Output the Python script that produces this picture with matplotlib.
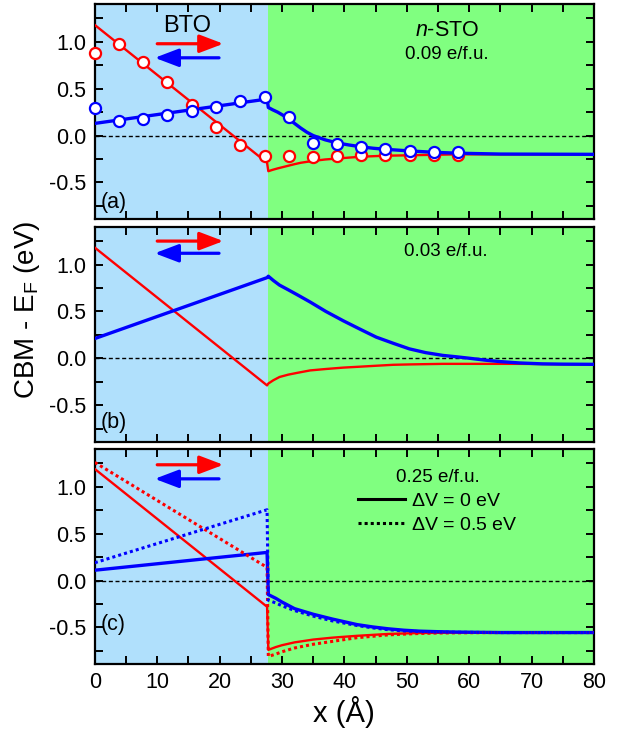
import numpy as np
import matplotlib
matplotlib.use('Agg')
import matplotlib.pyplot as plt
from matplotlib.lines import Line2D
from matplotlib.ticker import MultipleLocator

plt.rcParams['font.family'] = ['Liberation Sans', 'DejaVu Sans']
plt.rcParams['mathtext.fontset'] = 'custom'
plt.rcParams['mathtext.rm'] = 'Liberation Sans'
plt.rcParams['mathtext.it'] = 'Liberation Sans:italic'
plt.rcParams['axes.unicode_minus'] = False

# --- Data ---
interface_x = 27.8
bto_x = [0.0, 27.6]

# panel (a): 0.09 e/f.u.
a_red_bto = [1.18, -0.29]
a_blue_bto = [0.13, 0.39]
a_sto_x = [27.8, 28.5, 29.3, 30.2, 31.1, 32.0, 33.0, 34.0, 35.0, 36.9, 38.8, 40.7,
           42.7, 44.6, 46.5, 50.5, 54.3, 58.2, 65.0, 80.0]
a_red_sto = [-0.38, -0.365, -0.35, -0.335, -0.32, -0.305, -0.29, -0.28, -0.27, -0.255,
             -0.245, -0.235, -0.225, -0.22, -0.215, -0.21, -0.205, -0.2, -0.2, -0.2]
a_blue_sto = [0.30, 0.275, 0.25, 0.215, 0.175, 0.13, 0.08, 0.035, 0.0, -0.045, -0.078,
              -0.10, -0.12, -0.135, -0.146, -0.164, -0.178, -0.188, -0.197, -0.2]
a_pts_x = [0.0, 3.9, 7.75, 11.6, 15.5, 19.4, 23.3, 27.2, 31.1, 35.0, 38.8, 42.7, 46.5, 50.5, 54.3, 58.2]
a_red_pts = [0.88, 0.98, 0.79, 0.57, 0.33, 0.09, -0.10, -0.22, -0.22, -0.23, -0.22, -0.21, -0.21, -0.21, -0.21, -0.21]
a_blue_pts = [0.29, 0.16, 0.18, 0.22, 0.26, 0.31, 0.365, 0.41, 0.20, -0.08, -0.09, -0.12, -0.14, -0.16, -0.17, -0.18]

# panel (b): 0.03 e/f.u.
b_red_bto = [1.18, -0.29]
b_blue_bto = [0.21, 0.86]
b_sto_x = [27.8, 28.6, 29.6, 31.0, 32.5, 34.5, 37.0, 39.8, 42.5, 45.1, 47.8, 50.4,
           53.0, 55.8, 58.0, 60.0, 62.5, 64.8, 68.0, 71.7, 75.0, 80.0]
b_red_sto = [-0.27, -0.235, -0.20, -0.175, -0.155, -0.13, -0.115, -0.10, -0.09, -0.08,
             -0.07, -0.066, -0.063, -0.06, -0.06, -0.06, -0.06, -0.06, -0.06, -0.062,
             -0.064, -0.065]
b_blue_sto = [0.875, 0.83, 0.78, 0.73, 0.675, 0.60, 0.50, 0.40, 0.31, 0.225, 0.16, 0.10,
              0.06, 0.03, 0.015, 0.0, -0.02, -0.035, -0.05, -0.06, -0.063, -0.065]

# panel (c): 0.25 e/f.u., dV = 0 (solid) and dV = 0.5 eV (dotted)
c_red_bto = [1.19, -0.28]
c_blue_bto = [0.11, 0.30]
c_red_bto_dv = [1.26, 0.14]
c_blue_bto_dv = [0.19, 0.755]
c_sto_x = [27.8, 29.0, 30.0, 31.0, 32.0, 33.5, 35.0, 36.5, 38.0, 40.0, 42.0, 44.5,
           47.0, 49.5, 52.0, 55.0, 58.0, 65.0, 80.0]
c_red_sto = [-0.74, -0.71, -0.69, -0.675, -0.66, -0.645, -0.63, -0.62, -0.61, -0.60,
             -0.59, -0.58, -0.57, -0.565, -0.56, -0.558, -0.556, -0.555, -0.555]
c_blue_sto = [-0.15, -0.19, -0.23, -0.265, -0.30, -0.33, -0.36, -0.385, -0.41, -0.44,
              -0.47, -0.495, -0.515, -0.53, -0.54, -0.546, -0.55, -0.555, -0.555]
c_red_sto_dv = [-0.81, -0.785, -0.76, -0.74, -0.72, -0.70, -0.68, -0.665, -0.65, -0.63,
                -0.61, -0.595, -0.58, -0.572, -0.565, -0.56, -0.558, -0.555, -0.555]
c_blue_sto_dv = [-0.21, -0.24, -0.27, -0.295, -0.32, -0.35, -0.38, -0.405, -0.43, -0.455,
                 -0.48, -0.505, -0.525, -0.537, -0.545, -0.55, -0.552, -0.555, -0.555]

doping_labels = ['0.09 e/f.u.', '0.03 e/f.u.', '0.25 e/f.u.']
panel_labels = ['(a)', '(b)', '(c)']

RED = '#ff0000'
BLUE = '#0000ff'
BTO_BG = '#b0e0fc'
STO_BG = '#80ff80'
LW_RED = 1.7
LW_BLUE = 2.4


# --- Helpers ---
def setup_axes(ax, show_xlabels):
    ax.axvspan(0, interface_x, color=BTO_BG, lw=0, zorder=0)
    ax.axvspan(interface_x, 80, color=STO_BG, lw=0, zorder=0)
    ax.axhline(0, color='k', lw=1.0, ls='--', dashes=(2.9, 1.9), zorder=1)
    ax.set_xlim(0, 80)
    ax.set_ylim(-0.89, 1.40)
    ax.xaxis.set_major_locator(MultipleLocator(10))
    ax.xaxis.set_minor_locator(MultipleLocator(5))
    ax.yaxis.set_major_locator(MultipleLocator(0.5))
    ax.yaxis.set_minor_locator(MultipleLocator(0.25))
    ax.yaxis.set_major_formatter(matplotlib.ticker.FormatStrFormatter('%.1f'))
    ax.tick_params(which='both', direction='in', top=True, right=True,
                   width=1.4, length=5.5, labelsize=15.5, pad=6)
    if not show_xlabels:
        ax.tick_params(labelbottom=False)
    for sp in ax.spines.values():
        sp.set_linewidth(1.6)


def draw_arrows(ax, y_red, y_blue):
    style = '-|>,head_length=1.45,head_width=0.55'
    ax.annotate('', xy=(20.6, y_red), xytext=(10.0, y_red),
                arrowprops=dict(arrowstyle=style, color=RED, lw=2.3,
                                mutation_scale=10, shrinkA=0, shrinkB=0), zorder=5)
    ax.annotate('', xy=(9.6, y_blue), xytext=(19.9, y_blue),
                arrowprops=dict(arrowstyle=style, color=BLUE, lw=2.3,
                                mutation_scale=10, shrinkA=0, shrinkB=0), zorder=5)


fig = plt.figure(figsize=(6.28, 7.30), dpi=100)
left, width, height = 0.151, 0.795, 0.294
ax_a = fig.add_axes([left, 0.700, width, height])
ax_b = fig.add_axes([left, 0.395, width, height])
ax_c = fig.add_axes([left, 0.0905, width, height])

# --- Panel (a) ---
setup_axes(ax_a, False)
ax_a.plot(bto_x + a_sto_x, a_red_bto + a_red_sto, color=RED, lw=LW_RED, zorder=3)
ax_a.plot(bto_x + a_sto_x, a_blue_bto + a_blue_sto, color=BLUE, lw=LW_BLUE, zorder=3)
ax_a.plot(a_pts_x, a_red_pts, 'o', ms=8, mfc='white', mec=RED, mew=1.6, zorder=4, clip_on=False)
ax_a.plot(a_pts_x, a_blue_pts, 'o', ms=8, mfc='white', mec=BLUE, mew=1.6, zorder=4, clip_on=False)
draw_arrows(ax_a, 0.98, 0.83)
ax_a.text(14.8, 1.17, 'BTO', fontsize=17, ha='center', va='center')
ax_a.text(56.4, 1.12, '$\\it{n}$-STO', fontsize=15.5, ha='center', va='center')

# --- Panel (b) ---
setup_axes(ax_b, False)
ax_b.plot(bto_x + b_sto_x, b_red_bto + b_red_sto, color=RED, lw=LW_RED, zorder=3)
ax_b.plot(bto_x + b_sto_x, b_blue_bto + b_blue_sto, color=BLUE, lw=LW_BLUE, zorder=3)
draw_arrows(ax_b, 1.25, 1.12)

# --- Panel (c) ---
setup_axes(ax_c, True)
ax_c.plot(bto_x + c_sto_x, c_red_bto + c_red_sto, color=RED, lw=LW_RED, zorder=3)
ax_c.plot(bto_x + c_sto_x, c_blue_bto + c_blue_sto, color=BLUE, lw=LW_BLUE, zorder=3)
ax_c.plot(bto_x + c_sto_x, c_red_bto_dv + c_red_sto_dv, color=RED, lw=2.2,
          ls=(0, (1, 1)), zorder=3)
ax_c.plot(bto_x + c_sto_x, c_blue_bto_dv + c_blue_sto_dv, color=BLUE, lw=2.2,
          ls=(0, (1, 1)), zorder=3)
draw_arrows(ax_c, 1.235, 1.085)
handles = [Line2D([], [], color='k', lw=2.2),
           Line2D([], [], color='k', lw=2.2, ls=(0, (1, 1)))]
ax_c.legend(handles, ['$\\Delta$V = 0 eV', '$\\Delta$V = 0.5 eV'], frameon=False,
            loc='upper left', bbox_to_anchor=(0.528, 0.80), borderpad=0,
            borderaxespad=0, handlelength=2.4, handletextpad=0.3,
            labelspacing=0.35, fontsize=14)
ax_c.set_xticks(np.arange(0, 81, 10))

# --- Shared labels ---
text_pos = [(56.4, 0.865), (56.3, 1.14), (55.0, 1.10)]
label_y = [-0.71, -0.69, -0.47]
for ax, txt, pos, lab, ly in zip([ax_a, ax_b, ax_c], doping_labels, text_pos,
                                 panel_labels, label_y):
    ax.text(pos[0], pos[1], txt, fontsize=13.5, ha='center', va='center')
    ax.text(0.9, ly, lab, fontsize=15.5, ha='left', va='center')

fig.text(0.043, 0.575, 'CBM - E$_\\mathrm{F}$ (eV)', rotation=90, fontsize=20,
         ha='center', va='center')
fig.text(0.548, 0.025, 'x (Å)', fontsize=21, ha='center', va='center')

fig.savefig('out.png', dpi=100)
